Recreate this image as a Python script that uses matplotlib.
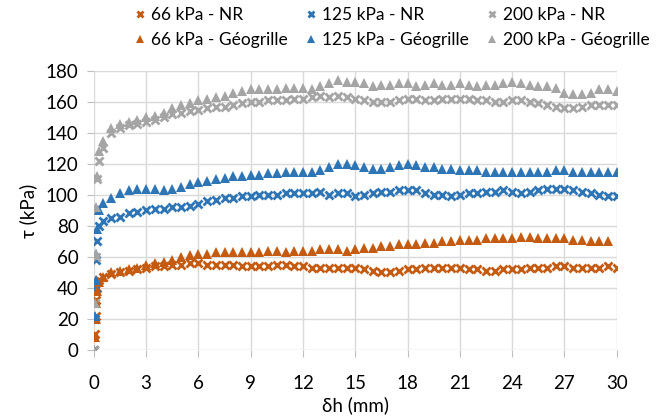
import numpy as np
import matplotlib
import matplotlib.pyplot as plt

matplotlib.use('Agg')

plt.rcParams['font.family'] = ['Lato', 'DejaVu Sans']

# initial rise, shared by all series
x_rise = [0, 0.05, 0.1, 0.15, 0.2, 0.3]
x_main = np.arange(0.5, 30.01, 0.5)

rise_66_nr = [0, 10, 22, 32, 40, 45]
rise_66_g = [0, 8, 20, 30, 38, 44]
rise_125_nr = [0, 20, 40, 58, 70, 80]
rise_125_g = [0, 22, 45, 62, 78, 90]
rise_200_nr = [0, 30, 60, 90, 110, 122]
rise_200_g = [0, 30, 62, 92, 112, 128]

tau_66_nr = [47, 49, 50, 51, 52, 53, 54, 54, 55, 55, 56, 56, 55, 55, 55, 55, 54, 54, 54, 54,
             55, 55, 54, 54, 53, 53, 53, 53, 53, 53, 52, 51, 50, 50, 51, 52, 52, 53, 53, 53,
             53, 53, 52, 52, 51, 51, 52, 52, 52, 53, 53, 53, 54, 54, 53, 53, 53, 53, 54, 53]
tau_66_g = [47, 50, 51, 52, 53, 55, 56, 57, 58, 60, 61, 62, 62, 63, 63, 63, 63, 63, 63, 64,
            64, 63, 64, 64, 64, 65, 65, 65, 64, 65, 66, 66, 67, 67, 68, 68, 68, 69, 69, 70,
            70, 71, 71, 71, 72, 72, 72, 72, 73, 73, 72, 72, 72, 72, 71, 71, 70, 70, 70]
tau_125_nr = [83, 85, 86, 88, 89, 90, 91, 91, 92, 92, 93, 94, 96, 97, 98, 98, 99, 99, 100, 100,
              100, 101, 101, 101, 101, 102, 100, 101, 101, 99, 100, 101, 102, 102, 103, 103, 103, 101, 100, 100,
              99, 100, 101, 101, 102, 102, 103, 102, 101, 102, 103, 104, 104, 104, 103, 102, 101, 100, 99, 99]
tau_125_g = [95, 98, 101, 103, 104, 104, 104, 103, 104, 105, 107, 108, 109, 110, 111, 112, 112, 113, 113, 114,
             114, 115, 115, 115, 115, 116, 118, 120, 120, 119, 118, 117, 117, 118, 119, 120, 119, 118, 118, 117,
             117, 116, 116, 116, 115, 115, 115, 115, 115, 115, 115, 115, 116, 116, 115, 115, 115, 115, 115, 115]
tau_200_nr = [130, 140, 143, 145, 146, 147, 148, 150, 152, 153, 154, 155, 156, 157, 157, 158, 159, 160, 160, 161,
              161, 161, 162, 162, 163, 164, 163, 164, 163, 162, 161, 160, 160, 160, 161, 162, 162, 161, 161, 162,
              162, 162, 162, 161, 161, 160, 160, 161, 161, 160, 159, 158, 157, 156, 156, 157, 158, 158, 158, 158]
tau_200_g = [135, 143, 146, 147, 148, 150, 151, 153, 156, 158, 159, 161, 162, 163, 164, 166, 167, 168, 168, 168,
             168, 169, 169, 169, 168, 170, 172, 174, 173, 173, 172, 170, 171, 171, 172, 172, 170, 171, 172, 171,
             171, 172, 171, 170, 171, 171, 172, 173, 172, 171, 170, 170, 169, 166, 165, 165, 166, 168, 168, 167]

orange = '#C55A11'
blue = '#2E75B6'
gray = '#A5A5A5'

series = [
    ('66 kPa - NR', rise_66_nr, tau_66_nr, orange, 'x'),
    ('125 kPa - NR', rise_125_nr, tau_125_nr, blue, 'x'),
    ('200 kPa - NR', rise_200_nr, tau_200_nr, gray, 'x'),
    ('66 kPa - Géogrille', rise_66_g, tau_66_g, orange, '^'),
    ('125 kPa - Géogrille', rise_125_g, tau_125_g, blue, '^'),
    ('200 kPa - Géogrille', rise_200_g, tau_200_g, gray, '^'),
]

fig = plt.figure(figsize=(6.61, 4.17), dpi=100)
ax = fig.add_axes([0.142, 0.161, 0.791, 0.669])

handles = {}
for label, rise, vals, color, marker in series:
    xs = list(x_rise) + list(x_main[:len(vals)])
    ys = list(rise) + list(vals)
    if marker == 'x':
        h, = ax.plot(xs, ys, linestyle='none', marker='x', color=color,
                     markersize=6, markeredgewidth=2.0, label=label)
    else:
        h, = ax.plot(xs, ys, linestyle='none', marker='^', color=color,
                     markersize=7.5, markeredgewidth=0, label=label)
    handles[label] = h

ax.set_xlim(0, 30)
ax.set_ylim(0, 180)
ax.set_xticks(np.arange(0, 31, 3))
ax.set_yticks(np.arange(0, 181, 20))
ax.grid(True, color='#D9D9D9', linewidth=1)
ax.set_axisbelow(True)
for s in ax.spines.values():
    s.set_visible(False)
ax.tick_params(axis='both', labelsize=13.5, length=5, color='#BFBFBF', labelcolor='#000000')
ax.tick_params(axis='y', pad=6)
ax.tick_params(axis='x', pad=13)
ax.set_xlabel('δh (mm)', fontsize=13.5, labelpad=3)
ax.set_ylabel('τ (kPa)', fontsize=13.5, labelpad=6)

order = ['66 kPa - NR', '66 kPa - Géogrille', '125 kPa - NR', '125 kPa - Géogrille',
         '200 kPa - NR', '200 kPa - Géogrille']
leg = fig.legend([handles[k] for k in order], order, ncol=3, loc='upper left',
                 bbox_to_anchor=(0.195, 1.0), frameon=False, fontsize=12.5,
                 handlelength=0.5, handletextpad=0.4, columnspacing=1.05,
                 labelspacing=0.55, markerscale=0.75, borderaxespad=0)

fig.savefig('out.png', dpi=100)
